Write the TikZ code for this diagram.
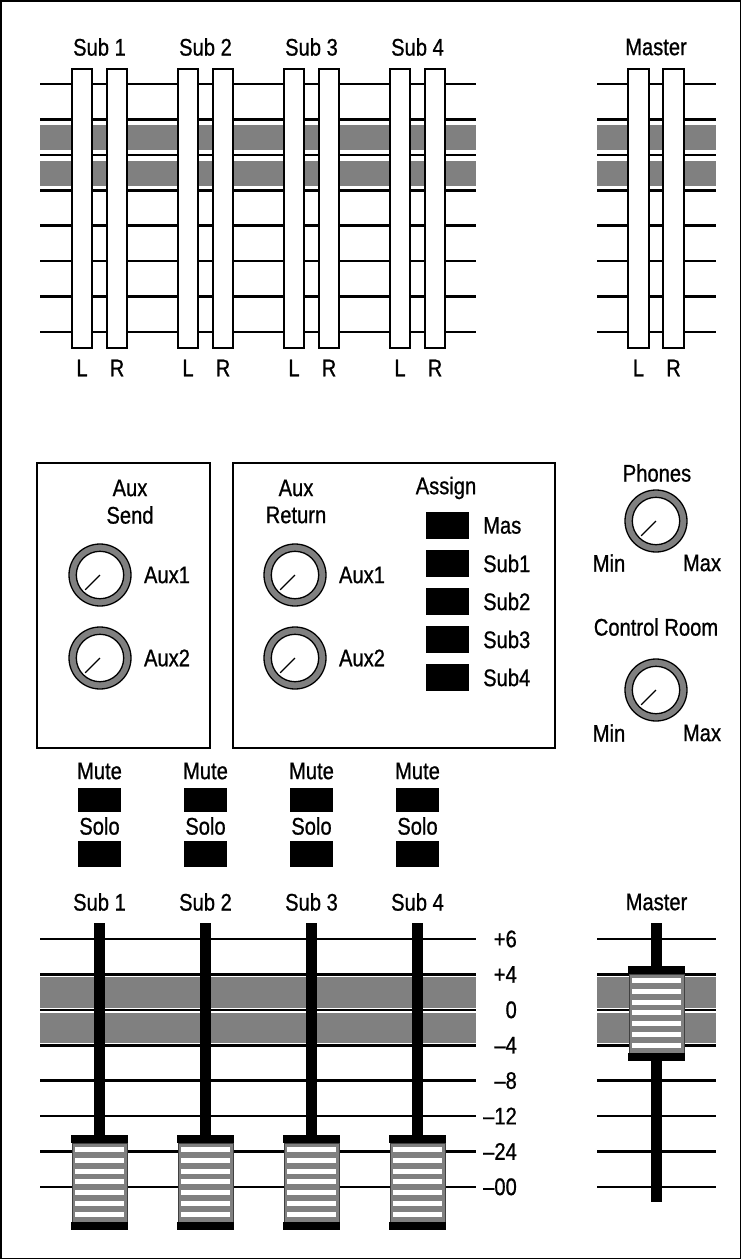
\documentclass[tikz,border=0pt]{standalone}
\usepackage{fontspec}
\setmainfont{Liberation Sans}[FakeStretch=0.84, FakeBold=0.8]
\definecolor{band}{HTML}{808080}
\tikzset{
  lbl/.style={font=\fontsize{24}{26}\selectfont, inner sep=0pt},
  mline/.style={line width=2.6pt, black},
  slider/.style={draw=black, fill=white, line width=1.3pt},
  btn/.style={fill=black},
  frame/.style={draw=black, line width=1.3pt},
  knob/.pic={
    \fill[band] (0,0) circle[radius=31pt];
    \draw[line width=1.3pt] (0,0) circle[radius=31pt];
    \filldraw[fill=white, draw=black, line width=1.3pt] (0,0) circle[radius=23.7pt];
    \draw[line width=1.3pt] (0,0) -- (225:21pt);
  },
  fader/.pic={
    \fill[black] (-28.5,0) rectangle (28.5,8);
    \filldraw[fill=band, draw=black!75, line width=0.9pt] (-27.5,8) rectangle (27.5,87);
    \foreach \i in {0,...,6} \fill[white] (-24.5,12+10.8*\i) rectangle (24.5,17+10.8*\i);
    \fill[black] (-28.5,87) rectangle (28.5,95);
  }
}
\begin{document}
\begin{tikzpicture}[x=1pt,y=-1pt]
\useasboundingbox (0,0) rectangle (741,1259);
\draw[line width=1.5pt] (0.75,0.75) rectangle (740.25,1258.25);

% ---------- top meters ----------
\fill[band] (40,125) rectangle (476,150);
\fill[band] (40,160.5) rectangle (476,186);
\fill[band] (597,125) rectangle (716,150);
\fill[band] (597,160.5) rectangle (716,186);
\foreach \k in {0,...,7} {
  \draw[mline] (40,84+35.4*\k) -- (476,84+35.4*\k);
  \draw[mline] (597,84+35.4*\k) -- (716,84+35.4*\k);
}
\foreach \c [count=\n] in {99.5,205.5,311.5,417.5} {
  \draw[slider] (\c-27.5,69) rectangle (\c-7.5,348);
  \draw[slider] (\c+7.5,69) rectangle (\c+27.5,348);
  \node[lbl] (tsub\n) at (\c,47) {Sub \n};
  \node[lbl] (tl\n) at (\c-17.5,368) {L};
  \node[lbl] (tr\n) at (\c+17.5,368) {R};
}
\draw[slider] (628,69) rectangle (649,348);
\draw[slider] (663,69) rectangle (684,348);
\node[lbl] (tmaster) at (656,47) {Master};
\node[lbl] (tml) at (638.5,368) {L};
\node[lbl] (tmr) at (673.5,368) {R};

% ---------- aux send ----------
\draw[frame] (37,463) rectangle (210,748);
\node[lbl] (asaux) at (130,488) {Aux};
\node[lbl] (assend) at (130,515) {Send};
\pic at (100,575) {knob};
\pic at (100,658) {knob};
\node[lbl] (as1) at (167,575) {Aux1};
\node[lbl] (as2) at (167,658) {Aux2};

% ---------- aux return ----------
\draw[frame] (233,463) rectangle (555,748);
\node[lbl] (araux) at (296,488) {Aux};
\node[lbl] (arret) at (296,515) {Return};
\pic at (295,575) {knob};
\pic at (295,658) {knob};
\node[lbl] (ar1) at (362,575) {Aux1};
\node[lbl] (ar2) at (362,658) {Aux2};
\node[lbl] (assign) at (446,488) {Assign};
\foreach \t [count=\n from 0] in {Mas,Sub1,Sub2,Sub3,Sub4} {
  \fill[btn] (426,512+38*\n) rectangle (469,539+38*\n);
  \node[lbl, anchor=west] (asg\n) at (483,525.5+38*\n) {\t};
}

% ---------- phones / control room ----------
\node[lbl] (phones) at (657,473) {Phones};
\pic at (656,521) {knob};
\node[lbl] (pmin) at (609,563) {Min};
\node[lbl] (pmax) at (702,563) {Max};
\node[lbl] (croom) at (656,627) {Control Room};
\pic at (656,690) {knob};
\node[lbl] (cmin) at (609,733) {Min};
\node[lbl] (cmax) at (702,733) {Max};

% ---------- mute / solo ----------
\foreach \c [count=\n] in {99.5,205.5,311.5,417.5} {
  \node[lbl] (mute\n) at (\c,771) {Mute};
  \fill[btn] (\c-21.5,788) rectangle (\c+21.5,812);
  \node[lbl] (solo\n) at (\c,826) {Solo};
  \fill[btn] (\c-21.5,841) rectangle (\c+21.5,866.5);
}

% ---------- faders ----------
\fill[band] (40,977) rectangle (476,1008);
\fill[band] (40,1012.5) rectangle (476,1043);
\fill[band] (597,977) rectangle (716,1008);
\fill[band] (597,1012.5) rectangle (716,1043);
\foreach \k in {0,...,7} {
  \draw[mline] (40,939+35.4*\k) -- (476,939+35.4*\k);
  \draw[mline] (597,939+35.4*\k) -- (716,939+35.4*\k);
}
\foreach \t [count=\n from 0] in {+6,+4,0,–4,–8,–12,–24,–00} {
  \node[lbl, anchor=east] (sc\n) at (517,939+35.4*\n) {\t};
}
\foreach \c [count=\n] in {99.5,205.5,311.5,417.5} {
  \node[lbl] (bsub\n) at (\c,902) {Sub \n};
  \fill[black] (\c-5.5,923) rectangle (\c+5.5,1136);
  \pic at (\c,1135) {fader};
}
\node[lbl] (bmaster) at (656.5,902) {Master};
\fill[black] (651,923) rectangle (662,1202);
\pic at (656.5,966) {fader};
\end{tikzpicture}
\end{document}
